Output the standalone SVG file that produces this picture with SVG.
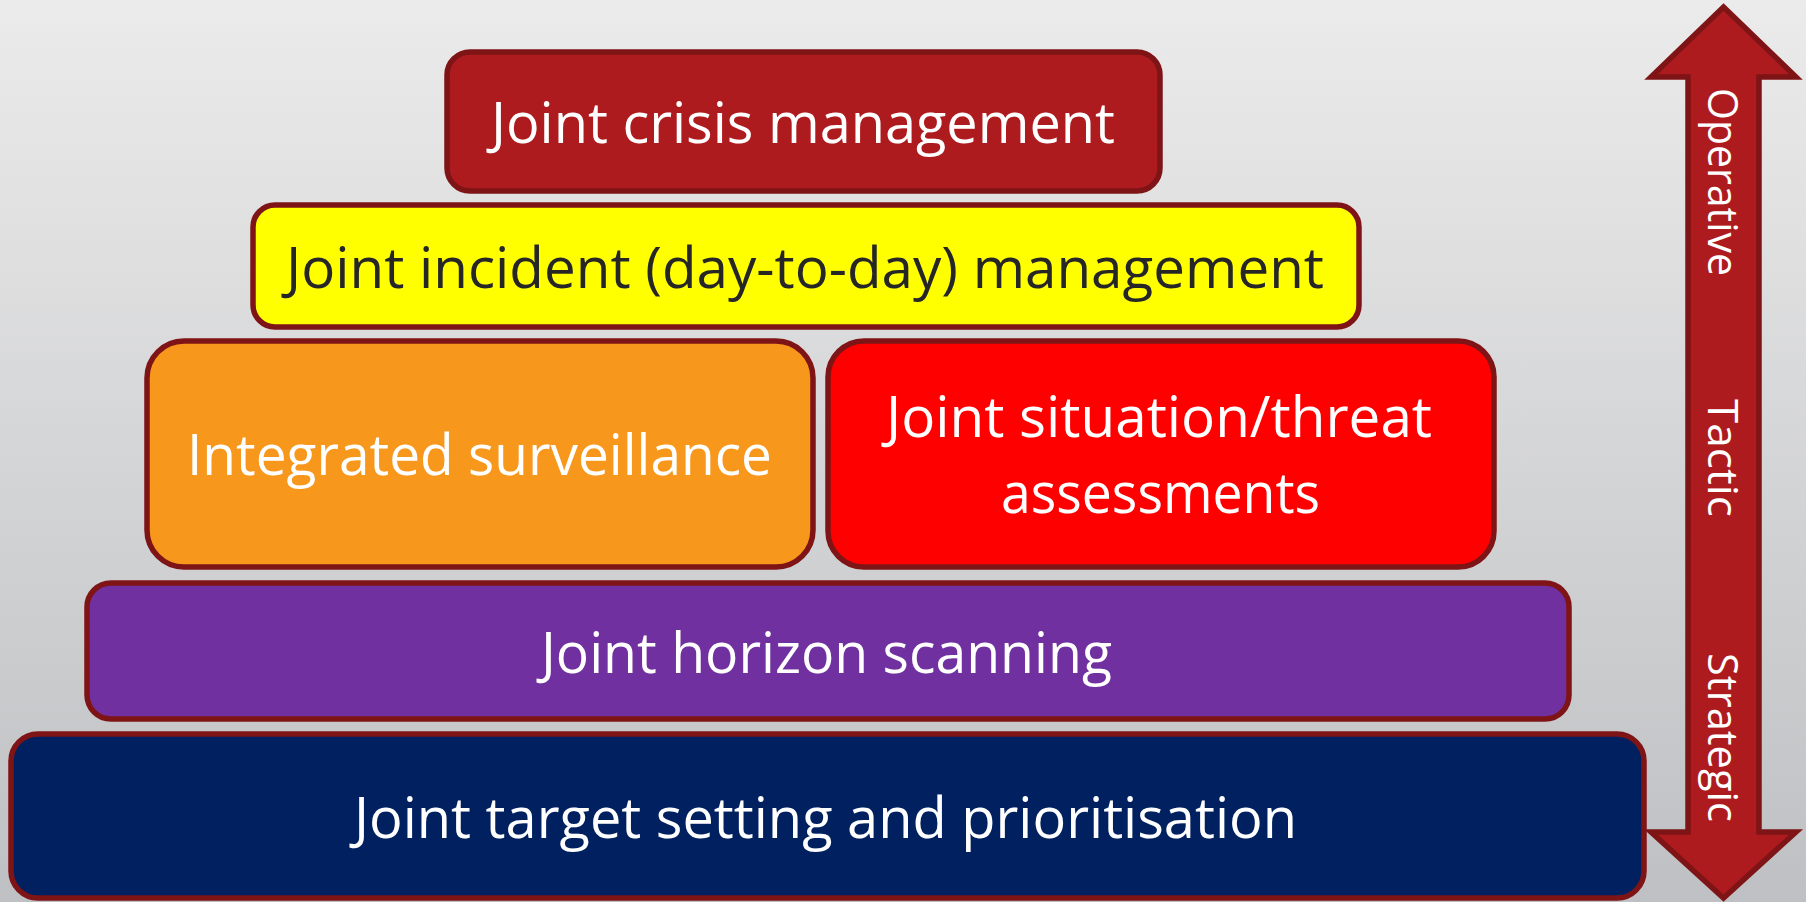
<svg xmlns="http://www.w3.org/2000/svg" width="1806" height="902" viewBox="0 0 1806 902">
  <defs>
    <linearGradient id="bg" x1="0" y1="0" x2="0" y2="1">
      <stop offset="0" stop-color="#EBEBEB"/>
      <stop offset="1" stop-color="#BFC0C3"/>
    </linearGradient>
    <style>
      .box { stroke: #7F1416; stroke-width: 5.5; }
      .lbl { font-family: "Open Sans", "Noto Sans", "Liberation Sans", sans-serif; font-size: 57px; fill: #FFFFFF; }
      .dark { fill: #262626; }
      .axis { font-family: "Open Sans", "Noto Sans", "Liberation Sans", sans-serif; font-size: 42px; fill: #FFFFFF; }
    </style>
  </defs>

  <rect x="0" y="0" width="1806" height="902" fill="url(#bg)"/>

  <g id="joint-target-setting">
    <rect class="box" x="11" y="734" width="1633" height="164" rx="27" ry="27" fill="#002060"/>
    <text class="lbl" x="354" y="838" textLength="943" lengthAdjust="spacingAndGlyphs">Joint target setting and prioritisation</text>
  </g>

  <g id="joint-horizon-scanning">
    <rect class="box" x="87" y="583" width="1482" height="136" rx="24" ry="24" fill="#7030A0"/>
    <text class="lbl" x="541" y="673" textLength="571" lengthAdjust="spacingAndGlyphs">Joint horizon scanning</text>
  </g>

  <g id="integrated-surveillance">
    <rect class="box" x="147" y="341" width="666" height="226" rx="37" ry="37" fill="#F7981D"/>
    <text class="lbl" x="187" y="475" textLength="585" lengthAdjust="spacingAndGlyphs">Integrated surveillance</text>
  </g>

  <g id="joint-situation-threat">
    <rect class="box" x="828" y="341" width="666" height="226" rx="36" ry="36" fill="#FF0000"/>
    <text class="lbl" x="886" y="437" textLength="546" lengthAdjust="spacingAndGlyphs">Joint situation/threat</text>
    <text class="lbl" x="1001" y="513" textLength="319" lengthAdjust="spacingAndGlyphs">assessments</text>
  </g>

  <g id="joint-incident-management">
    <rect class="box" x="253" y="205" width="1106" height="122" rx="22" ry="22" fill="#FFFF00"/>
    <text class="lbl dark" x="286" y="288" textLength="1038" lengthAdjust="spacingAndGlyphs">Joint incident (day-to-day) management</text>
  </g>

  <g id="joint-crisis-management">
    <rect class="box" x="447" y="52" width="713" height="139" rx="23" ry="23" fill="#AE1B1F"/>
    <text class="lbl" x="491" y="143" textLength="624" lengthAdjust="spacingAndGlyphs">Joint crisis management</text>
  </g>

  <g id="scale-arrow">
    <polygon class="box" fill="#AE1B1F" points="1723.5,7 1796,77 1759,77 1759,832 1796,832 1723.5,898 1651,832 1688,832 1688,77 1651,77"/>
    <text class="axis" transform="translate(1708,88) rotate(90)" x="0" y="0" textLength="188" lengthAdjust="spacingAndGlyphs">Operative</text>
    <text class="axis" transform="translate(1708,399) rotate(90)" x="0" y="0" textLength="118" lengthAdjust="spacingAndGlyphs">Tactic</text>
    <text class="axis" transform="translate(1708,653) rotate(90)" x="0" y="0" textLength="169" lengthAdjust="spacingAndGlyphs">Strategic</text>
  </g>
</svg>
